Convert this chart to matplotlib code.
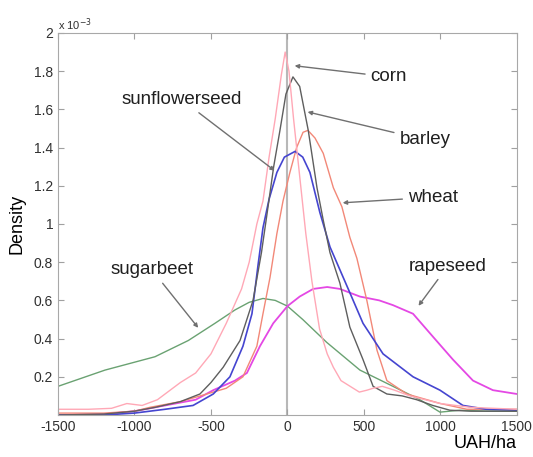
import matplotlib.pyplot as plt

plt.rcParams['font.family'] = ['Liberation Sans', 'DejaVu Sans']

# density values are in units of 1e-3
corn_x = [-1500, -1300, -1150, -1050, -950, -850, -700, -600, -500, -400, -300, -250, -200, -160,
          -120, -80, -40, -15, 10, 40, 80, 120, 160, 210, 260, 300, 350, 410, 470, 520, 560, 620,
          700, 800, 900, 1000, 1200, 1500]
corn_y = [0.03, 0.03, 0.035, 0.06, 0.05, 0.08, 0.17, 0.22, 0.32, 0.48, 0.66, 0.8, 1.0, 1.12,
          1.35, 1.55, 1.78, 1.90, 1.80, 1.55, 1.25, 0.95, 0.70, 0.45, 0.32, 0.25, 0.18, 0.15,
          0.12, 0.13, 0.14, 0.15, 0.13, 0.1, 0.08, 0.06, 0.04, 0.03]

barley_x = [-1500, -1200, -1000, -866, -700, -572, -500, -420, -310, -225, -170, -134, -90, -49,
            -10, 36, 80, 136, 193, 234, 278, 343, 408, 494, 560, 650, 750, 845, 950, 1062, 1200, 1500]
barley_y = [0.0, 0.005, 0.02, 0.04, 0.07, 0.11, 0.17, 0.25, 0.39, 0.6, 0.85, 1.05, 1.3, 1.49,
            1.68, 1.77, 1.72, 1.49, 1.19, 1.02, 0.85, 0.69, 0.46, 0.29, 0.15, 0.11, 0.1, 0.08,
            0.05, 0.025, 0.02, 0.02]

wheat_x = [-1500, -1200, -1000, -900, -700, -527, -400, -291, -200, -160, -114, -69, -29, 16, 60,
           102, 134, 180, 234, 300, 356, 408, 454, 519, 585, 650, 780, 1000, 1173, 1500]
wheat_y = [0.01, 0.01, 0.02, 0.04, 0.07, 0.11, 0.14, 0.2, 0.36, 0.53, 0.72, 0.95, 1.12, 1.27, 1.40,
           1.48, 1.49, 1.45, 1.37, 1.19, 1.09, 0.93, 0.82, 0.6, 0.34, 0.18, 0.11, 0.06, 0.03, 0.03]

sunflower_x = [-1500, -1200, -1000, -800, -617, -485, -376, -291, -232, -193, -160, -120, -69,
               -20, 50, 100, 147, 212, 278, 343, 408, 494, 625, 821, 997, 1147, 1300, 1500]
sunflower_y = [0.0, 0.0, 0.01, 0.03, 0.05, 0.11, 0.2, 0.36, 0.53, 0.78, 0.98, 1.13, 1.27,
               1.35, 1.38, 1.35, 1.27, 1.06, 0.88, 0.76, 0.64, 0.48, 0.32, 0.2, 0.13, 0.05, 0.03, 0.025]

sugarbeet_x = [-1500, -1193, -866, -648, -474, -343, -250, -160, -80, 0, 100, 257, 474, 690, 866,
               997, 1127, 1300, 1500]
sugarbeet_y = [0.15, 0.235, 0.305, 0.39, 0.48, 0.55, 0.59, 0.61, 0.60, 0.57, 0.5, 0.38, 0.235,
               0.15, 0.08, 0.015, 0.025, 0.02, 0.02]

rapeseed_x = [-1500, -1200, -1000, -800, -600, -485, -343, -265, -180, -93, 0, 80, 168, 260, 343,
              474, 600, 690, 821, 951, 1082, 1213, 1343, 1500]
rapeseed_y = [0.0, 0.005, 0.02, 0.05, 0.08, 0.13, 0.18, 0.22, 0.36, 0.48, 0.57, 0.62, 0.66, 0.67,
              0.66, 0.62, 0.6, 0.575, 0.53, 0.41, 0.29, 0.18, 0.13, 0.11]

ytick_vals = [0.2, 0.4, 0.6, 0.8, 1.0, 1.2, 1.4, 1.6, 1.8, 2.0]
ytick_labels = ['0.2', '0.4', '0.6', '0.8', '1', '1.2', '1.4', '1.6', '1.8', '2']
xtick_vals = [-1500, -1000, -500, 0, 500, 1000, 1500]

fig = plt.figure(figsize=(5.33, 4.57), dpi=100)
ax = fig.add_axes([0.1088, 0.0919, 0.861, 0.836])

ax.axvline(0, color='#b8b8b8', lw=1.5, zorder=1)

ax.plot(sugarbeet_x, sugarbeet_y, color='#6aa272', lw=1.0)
ax.plot(rapeseed_x, rapeseed_y, color='#e448e4', lw=1.3)
ax.plot(wheat_x, wheat_y, color='#f28878', lw=1.0)
ax.plot(sunflower_x, sunflower_y, color='#4545d0', lw=1.2)
ax.plot(barley_x, barley_y, color='#5e5e5e', lw=1.0)
ax.plot(corn_x, corn_y, color='#ffa8b6', lw=1.0)

ax.set_xlim(-1500, 1500)
ax.set_ylim(0, 2.0)
ax.set_xticks(xtick_vals)
ax.set_xticklabels([str(v) for v in xtick_vals])
ax.set_yticks(ytick_vals)
ax.set_yticklabels(ytick_labels)
ax.tick_params(direction='in', length=4, color='#a0a0a0', labelcolor='#303030', labelsize=10,
               top=True, right=True)
for s in ax.spines.values():
    s.set_color('#a8a8a8')

ax.text(0.0, 1.0, r'x 10$^{-3}$', transform=ax.transAxes, fontsize=8, color='#303030',
        ha='left', va='bottom')
ax.set_ylabel('Density', fontsize=13, labelpad=6)
ax.text(1500, -0.15, 'UAH/ha', fontsize=13, ha='right', va='center')

arrow = dict(arrowstyle='-|>', color='#707070', lw=1, mutation_scale=6)
labels = [
    ('corn', (29, 1.83), (663, 1.77)),
    ('barley', (114, 1.59), (899, 1.44)),
    ('wheat', (343, 1.11), (951, 1.14)),
    ('sunflowerseed', (-69, 1.27), (-690, 1.65)),
    ('sugarbeet', (-572, 0.445), (-886, 0.76)),
    ('rapeseed', (846, 0.56), (1049, 0.78)),
]
for name, tip, pos in labels:
    ax.annotate(name, xy=tip, xytext=pos, fontsize=13.5, color='#202020', ha='center', va='center',
                arrowprops=arrow)

fig.savefig('out.png', dpi=100)
